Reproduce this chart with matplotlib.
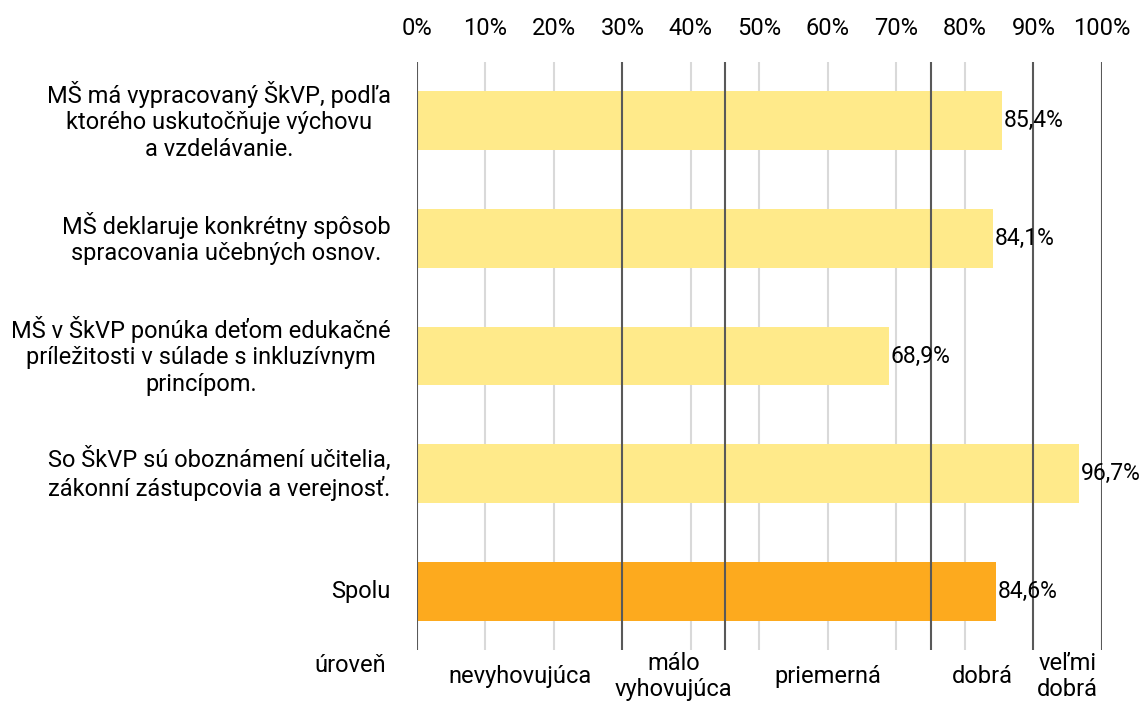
import numpy as np
import matplotlib
matplotlib.use("Agg")
import matplotlib.pyplot as plt

plt.rcParams['font.family'] = ['Roboto', 'DejaVu Sans']

# data
categories = ["MŠ má vypracovaný ŠkVP, podľa\nktorého uskutočňuje výchovu\na vzdelávanie.",
              "MŠ deklaruje konkrétny spôsob\nspracovania učebných osnov.",
              "MŠ v ŠkVP ponúka deťom edukačné\npríležitosti v súlade s inkluzívnym\nprincípom.",
              "So ŠkVP sú oboznámení učitelia,\nzákonní zástupcovia a verejnosť.",
              "Spolu"]
values = [85.4, 84.1, 68.9, 96.7, 84.6]
value_labels = ["85,4%", "84,1%", "68,9%", "96,7%", "84,6%"]
colors = ["#FFEA8A", "#FFEA8A", "#FFEA8A", "#FFEA8A", "#FDAA1E"]

ticks = list(range(0, 101, 10))
tick_labels = [f"{t}%" for t in ticks]
level_bounds = [0, 30, 45, 75, 90, 100]
level_names = ["nevyhovujúca", "málo\nvyhovujúca", "priemerná", "dobrá", "veľmi\ndobrá"]

fs = 17

fig = plt.figure(figsize=(11.42, 7.15), dpi=100)
ax = fig.add_axes([0.3651, 0.0909, 0.5998, 0.8224])

y = np.arange(len(categories))
ax.barh(y, values, height=0.5, color=colors, zorder=1)

# light grid lines
for t in ticks:
    if t not in level_bounds:
        ax.axvline(t, color="#D9D9D9", lw=1.5, zorder=0)
# level boundaries
for b in level_bounds:
    ax.axvline(b, color="#595959", lw=1.5, zorder=2)

for yi, v, lab in zip(y, values, value_labels):
    ax.text(v + 0.2, yi, lab, va="center", ha="left", fontsize=fs - 0.5, zorder=3)

ax.set_xlim(0, 100)
ax.set_ylim(len(categories) - 0.5, -0.5)
ax.xaxis.tick_top()
ax.set_xticks(ticks)
ax.set_xticklabels(tick_labels, fontsize=fs)
ax.tick_params(axis="x", length=0, pad=16)
ax.set_yticks([])
for s in ax.spines.values():
    s.set_visible(False)

for yi, cat in zip(y, categories):
    ax.text(-3.8, yi, cat, ha="right", va="center", multialignment="center",
            fontsize=fs, linespacing=1.2)

# level labels under the chart
trans = ax.get_xaxis_transform()
for i, name in enumerate(level_names):
    xc = (level_bounds[i] + level_bounds[i + 1]) / 2
    ax.text(xc, -0.045, name, transform=trans, ha="center", va="center",
            fontsize=fs, linespacing=1.2, clip_on=False)
ax.text(-4.5, -0.027, "úroveň", transform=trans, ha="right", va="center",
        fontsize=fs, clip_on=False)

fig.savefig("out.png", dpi=100)
